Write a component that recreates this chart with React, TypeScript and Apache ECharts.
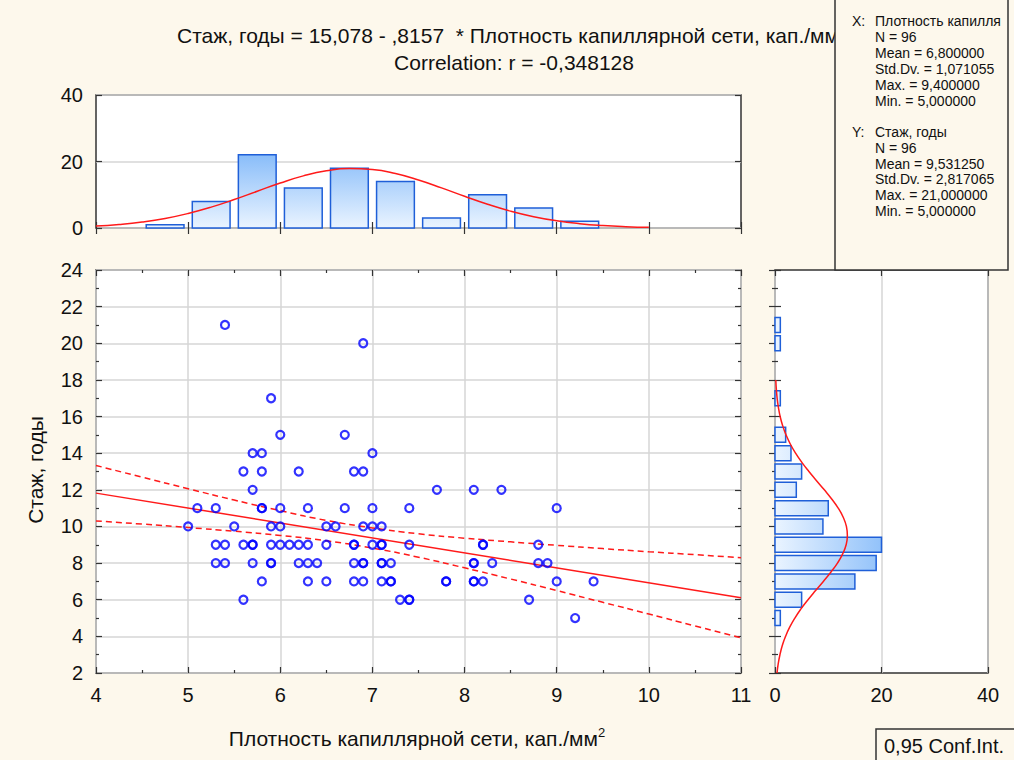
import React, { useEffect, useRef } from 'react';
import * as echarts from 'echarts';

// ---------- data ----------
// top histogram: bins (start, width 0.5) and counts
const xBinStarts = [4.5, 5.0, 5.5, 6.0, 6.5, 7.0, 7.5, 8.0, 8.5, 9.0];
const xBinCounts = [1, 8, 22, 12, 18, 14, 3, 10, 6, 2];
const xBinWidth = 0.5;

// right histogram: bins centred on integer years, width 1
const yBinCenters = [5, 6, 7, 8, 9, 10, 11, 12, 13, 14, 15, 16, 17, 18, 19, 20, 21];
const yBinCounts = [1, 5, 15, 19, 20, 9, 10, 4, 5, 3, 2, 0, 1, 0, 0, 1, 1];
const yBinWidth = 1;

// scatter points (Плотность капиллярной сети, Стаж)
const densityX = [
  5.4,
  6.9,
  5.9,
  6.0, 6.7,
  5.7, 5.8, 7.0,
  5.6, 5.8, 6.2, 6.8, 6.9,
  5.7, 7.7, 8.1, 8.4,
  5.1, 5.3, 5.8, 5.8, 6.0, 6.3, 6.7, 7.0, 7.4, 9.0,
  5.0, 5.5, 5.9, 6.0, 6.5, 6.6, 6.9, 7.0, 7.1,
  5.3, 5.4, 5.6, 5.7, 5.7, 5.9, 6.0, 6.1, 6.2, 6.3, 6.5, 6.8, 6.8, 7.0, 7.1, 7.1, 7.4, 8.2, 8.2, 8.8,
  5.3, 5.4, 5.7, 5.9, 5.9, 6.2, 6.3, 6.4, 6.8, 6.9, 6.9, 7.1, 7.1, 7.2, 8.1, 8.1, 8.3, 8.8, 8.9,
  5.8, 6.3, 6.5, 6.8, 6.9, 7.1, 7.2, 7.2, 7.8, 7.8, 8.1, 8.1, 8.2, 9.0, 9.4,
  5.6, 7.3, 7.4, 7.4, 8.7,
  9.2,
];
const tenureY = [
  21,
  20,
  17,
  15, 15,
  14, 14, 14,
  13, 13, 13, 13, 13,
  12, 12, 12, 12,
  11, 11, 11, 11, 11, 11, 11, 11, 11, 11,
  10, 10, 10, 10, 10, 10, 10, 10, 10,
  9, 9, 9, 9, 9, 9, 9, 9, 9, 9, 9, 9, 9, 9, 9, 9, 9, 9, 9, 9,
  8, 8, 8, 8, 8, 8, 8, 8, 8, 8, 8, 8, 8, 8, 8, 8, 8, 8, 8,
  7, 7, 7, 7, 7, 7, 7, 7, 7, 7, 7, 7, 7, 7, 7,
  6, 6, 6, 6, 6,
  5,
];

// fitted normal curve over the top histogram
const topCurveX = [4, 4.25, 4.5, 4.75, 5, 5.25, 5.5, 5.75, 6, 6.25, 6.5, 6.75, 7, 7.25, 7.5, 7.75, 8, 8.25, 8.5, 8.75, 9, 9.25, 9.5, 9.75, 10];
const topCurveCount = [0.59, 1.05, 1.78, 2.86, 4.36, 6.27, 8.56, 11.06, 13.53, 15.67, 17.19, 17.86, 17.57, 16.37, 14.44, 12.07, 9.54, 7.15, 5.07, 3.41, 2.17, 1.31, 0.75, 0.40, 0.21];

// fitted normal curve beside the right histogram
const rightCurveY = [2, 2.5, 3, 3.5, 4, 4.5, 5, 5.5, 6, 6.5, 7, 7.5, 8, 8.5, 9, 9.5, 10, 10.5, 11, 11.5, 12, 12.5, 13, 13.5, 14, 14.5, 15, 15.5, 16, 16.5, 17, 17.5, 18];
const rightCurveCount = [0.38, 0.60, 0.93, 1.37, 1.98, 2.76, 3.73, 4.88, 6.20, 7.62, 9.08, 10.48, 11.73, 12.71, 13.36, 13.59, 13.41, 12.81, 11.87, 10.65, 9.26, 7.80, 6.37, 5.04, 3.86, 2.87, 2.07, 1.44, 0.97, 0.64, 0.40, 0.25, 0.15];

// regression line and 0.95 confidence band
const fitX = [4, 11];
const fitY = [11.82, 6.11];
const bandX = [4, 4.5, 5, 5.5, 6, 6.5, 7, 7.5, 8, 8.5, 9, 9.5, 10, 10.5, 11];
const bandLower = [10.30, 10.13, 9.94, 9.74, 9.51, 9.22, 8.82, 8.32, 7.74, 7.13, 6.50, 5.86, 5.22, 4.57, 3.92];
const bandUpper = [13.33, 12.69, 12.06, 11.44, 10.86, 10.33, 9.92, 9.60, 9.36, 9.16, 8.97, 8.79, 8.62, 8.46, 8.29];

// axis ranges / ticks
const xRange = { min: 4, max: 11, step: 1 };
const yRange = { min: 2, max: 24, step: 2 };
const histCountRange = { min: 0, max: 40, step: 20 };

// texts
const title1 = 'Стаж, годы = 15,078 - ,8157  * Плотность капиллярной сети, кап./мм';
const title2 = 'Correlation: r = -0,348128';
const xTitle = 'Плотность капиллярной сети, кап./мм';
const yTitle = 'Стаж, годы';
const statsXHead = 'Плотность капилля';
const statsXLines = ['N = 96', 'Mean = 6,800000', 'Std.Dv. = 1,071055', 'Max. = 9,400000', 'Min. = 5,000000'];
const statsYHead = 'Стаж, годы';
const statsYLines = ['N = 96', 'Mean = 9,531250', 'Std.Dv. = 2,817065', 'Max. = 21,000000', 'Min. = 5,000000'];
const confLabel = '0,95 Conf.Int.';

// ---------- style ----------
const CREAM = '#fdf8ec';
const FRAME = '#333333';
const GRID = '#d6d6d6';
const TXT = '#111111';
const RED = '#ff1a1a';
const BLUE = '#0000ff';
const BAR_EDGE = '#1f5fd8';
const BAR_FRAC = 0.82;
const FONT = '"Liberation Sans", Arial, sans-serif';

const tickLine = { color: FRAME, width: 1.2 };

function axisLabelStyle(show: boolean, margin = 12) {
  return { show, fontSize: 20, color: TXT, fontFamily: FONT, margin };
}

function buildOption(): any {
  const grids = [
    { left: 96, top: 95, width: 645, height: 133 },
    { left: 96, top: 270, width: 645, height: 403 },
    { left: 775, top: 270, width: 213, height: 403 },
  ].map((g) => ({
    ...g,
    show: true,
    backgroundColor: '#ffffff',
    borderColor: FRAME,
    borderWidth: 1.5,
    containLabel: false,
    outerBoundsMode: 'none',
  }));

  const baseX = (gridIndex: number, position: string, r: any, labels: boolean, split: boolean, minor: boolean) => ({
    gridIndex,
    type: 'value',
    position,
    min: r.min,
    max: r.max,
    interval: r.step,
    axisLine: { show: false },
    axisTick: { show: true, inside: true, length: 6, lineStyle: tickLine },
    minorTick: { show: minor, splitNumber: 2, length: 3, lineStyle: tickLine },
    axisLabel: axisLabelStyle(labels, 12),
    splitLine: { show: split, lineStyle: { color: GRID, width: 1.5 } },
    minorSplitLine: { show: false },
  });
  const baseY = (gridIndex: number, position: string, r: any, labels: boolean, split: boolean, minor: boolean) => ({
    gridIndex,
    type: 'value',
    position,
    min: r.min,
    max: r.max,
    interval: r.step,
    axisLine: { show: false },
    axisTick: { show: true, inside: true, length: 6, lineStyle: tickLine },
    minorTick: { show: minor, splitNumber: 2, length: 3, lineStyle: tickLine },
    axisLabel: axisLabelStyle(labels, 13),
    splitLine: { show: split, lineStyle: { color: GRID, width: 1.5 } },
    minorSplitLine: { show: false },
  });

  const xAxis = [
    baseX(0, 'bottom', xRange, false, false, false),
    baseX(0, 'top', xRange, false, false, false),
    baseX(1, 'bottom', xRange, true, true, true),
    baseX(1, 'top', xRange, false, false, true),
    baseX(2, 'bottom', histCountRange, true, true, false),
    baseX(2, 'top', histCountRange, false, false, false),
  ];
  const yAxis = [
    baseY(0, 'left', histCountRange, true, true, false),
    baseY(0, 'right', histCountRange, false, false, false),
    baseY(1, 'left', yRange, true, true, true),
    baseY(1, 'right', yRange, false, false, true),
    baseY(2, 'left', yRange, false, false, true),
    baseY(2, 'right', yRange, false, false, true),
  ];

  const topBars = {
    type: 'custom',
    xAxisIndex: 0,
    yAxisIndex: 0,
    data: xBinStarts.map((s, i) => [s, xBinCounts[i]]),
    renderItem: (_p: any, api: any) => {
      const s = api.value(0);
      const c = api.value(1);
      const pad = (xBinWidth * (1 - BAR_FRAC)) / 2;
      const p0 = api.coord([s + pad, c]);
      const p1 = api.coord([s + xBinWidth - pad, 0]);
      const g0 = api.coord([xRange.min, histCountRange.min]);
      const g1 = api.coord([xRange.min, histCountRange.max]);
      const fill = new echarts.graphic.LinearGradient(0, g0[1], 0, g1[1], [
        { offset: 0, color: '#eaf4ff' },
        { offset: 1, color: '#3a90f5' },
      ], true);
      return {
        type: 'rect',
        shape: { x: p0[0], y: p0[1], width: p1[0] - p0[0], height: p1[1] - p0[1] },
        style: { fill, stroke: BAR_EDGE, lineWidth: 1.5 },
      };
    },
    z: 2,
  };

  const rightBars = {
    type: 'custom',
    xAxisIndex: 4,
    yAxisIndex: 4,
    data: yBinCenters.map((y, i) => [yBinCounts[i], y]),
    renderItem: (_p: any, api: any) => {
      const c = api.value(0);
      const y = api.value(1);
      if (!c) return null;
      const half = (yBinWidth * BAR_FRAC) / 2;
      const p0 = api.coord([0, y + half]);
      const p1 = api.coord([c, y - half]);
      const g0 = api.coord([histCountRange.min, yRange.min]);
      const g1 = api.coord([histCountRange.max, yRange.min]);
      const fill = new echarts.graphic.LinearGradient(g0[0], 0, g1[0], 0, [
        { offset: 0, color: '#eaf4ff' },
        { offset: 1, color: '#3a90f5' },
      ], true);
      return {
        type: 'rect',
        shape: { x: p0[0], y: p0[1], width: p1[0] - p0[0], height: p1[1] - p0[1] },
        style: { fill, stroke: BAR_EDGE, lineWidth: 1.5 },
      };
    },
    z: 2,
  };

  const lineBase = { type: 'line', symbol: 'none', silent: true, z: 4 };

  const series: any[] = [
    topBars,
    {
      ...lineBase,
      xAxisIndex: 0,
      yAxisIndex: 0,
      smooth: true,
      data: topCurveX.map((x, i) => [x, topCurveCount[i]]),
      lineStyle: { color: RED, width: 1.5 },
    },
    rightBars,
    {
      ...lineBase,
      xAxisIndex: 4,
      yAxisIndex: 4,
      smooth: true,
      data: rightCurveY.map((y, i) => [rightCurveCount[i], y]),
      lineStyle: { color: RED, width: 1.5 },
    },
    {
      ...lineBase,
      xAxisIndex: 2,
      yAxisIndex: 2,
      data: fitX.map((x, i) => [x, fitY[i]]),
      lineStyle: { color: RED, width: 1.5 },
    },
    {
      ...lineBase,
      xAxisIndex: 2,
      yAxisIndex: 2,
      smooth: true,
      data: bandX.map((x, i) => [x, bandUpper[i]]),
      lineStyle: { color: RED, width: 1.5, type: [6, 4] },
    },
    {
      ...lineBase,
      xAxisIndex: 2,
      yAxisIndex: 2,
      smooth: true,
      data: bandX.map((x, i) => [x, bandLower[i]]),
      lineStyle: { color: RED, width: 1.5, type: [6, 4] },
    },
    {
      type: 'scatter',
      xAxisIndex: 2,
      yAxisIndex: 2,
      symbol: 'circle',
      symbolSize: 8,
      data: densityX.map((x, i) => [x, tenureY[i]]),
      itemStyle: { color: 'rgba(255,255,255,0)', borderColor: BLUE, borderWidth: 2.2 },
      z: 5,
    },
  ];

  const statFont = { fontSize: 14, fontFamily: FONT, fill: TXT, verticalAlign: 'middle' };
  const graphic: any[] = [
    {
      type: 'text', x: 177, y: 35, z: 10,
      style: { text: title1, fontSize: 21, fontFamily: FONT, fill: TXT, align: 'left', verticalAlign: 'middle' },
    },
    {
      type: 'text', x: 514, y: 62, z: 10,
      style: { text: title2, fontSize: 21, fontFamily: FONT, fill: TXT, align: 'center', verticalAlign: 'middle' },
    },
    {
      type: 'rect', z: 50,
      shape: { x: 835, y: -2, width: 173, height: 272 },
      style: { fill: CREAM, stroke: FRAME, lineWidth: 1.5 },
    },
    { type: 'text', x: 852, y: 21, z: 51, style: { ...statFont, text: 'X:' } },
    { type: 'text', x: 875, y: 21, z: 51, style: { ...statFont, text: statsXHead } },
    ...statsXLines.map((t, i) => ({ type: 'text', x: 875, y: 37 + i * 15.9, z: 51, style: { ...statFont, text: t } })),
    { type: 'text', x: 852, y: 132, z: 51, style: { ...statFont, text: 'Y:' } },
    { type: 'text', x: 875, y: 132, z: 51, style: { ...statFont, text: statsYHead } },
    ...statsYLines.map((t, i) => ({ type: 'text', x: 875, y: 148 + i * 15.7, z: 51, style: { ...statFont, text: t } })),
    {
      type: 'text', x: 417, y: 738, z: 10,
      style: {
        text: '{a|' + xTitle + '}{s|2}',
        align: 'center',
        verticalAlign: 'middle',
        fill: TXT,
        rich: {
          a: { fontSize: 21, fontFamily: FONT, fill: TXT, color: TXT },
          s: { fontSize: 13, fontFamily: FONT, fill: TXT, color: TXT, padding: [0, 0, 12, 0] },
        },
      },
    },
    {
      type: 'text', x: 35, y: 470, z: 10, rotation: Math.PI / 2,
      style: { text: yTitle, fontSize: 21, fontFamily: FONT, fill: TXT, align: 'center', verticalAlign: 'middle' },
    },
    {
      type: 'rect', z: 50,
      shape: { x: 876, y: 729, width: 150, height: 40 },
      style: { fill: CREAM, stroke: FRAME, lineWidth: 1.5 },
    },
    {
      type: 'text', x: 884, y: 746, z: 51,
      style: { text: confLabel, fontSize: 20, fontFamily: FONT, fill: TXT, align: 'left', verticalAlign: 'middle' },
    },
  ];

  return {
    animation: false,
    backgroundColor: CREAM,
    textStyle: { fontFamily: FONT },
    grid: grids,
    xAxis,
    yAxis,
    series,
    graphic,
  };
}

export default function App() {
  const ref = useRef<HTMLDivElement>(null);
  useEffect(() => {
    if (!ref.current) return;
    const chart = echarts.init(ref.current, null, { renderer: 'svg' });
    chart.setOption(buildOption());
    return () => chart.dispose();
  }, []);
  return (
    <div
      ref={ref}
      style={{ position: 'absolute', left: 0, top: 0, width: 1014, height: 760 }}
    />
  );
}
